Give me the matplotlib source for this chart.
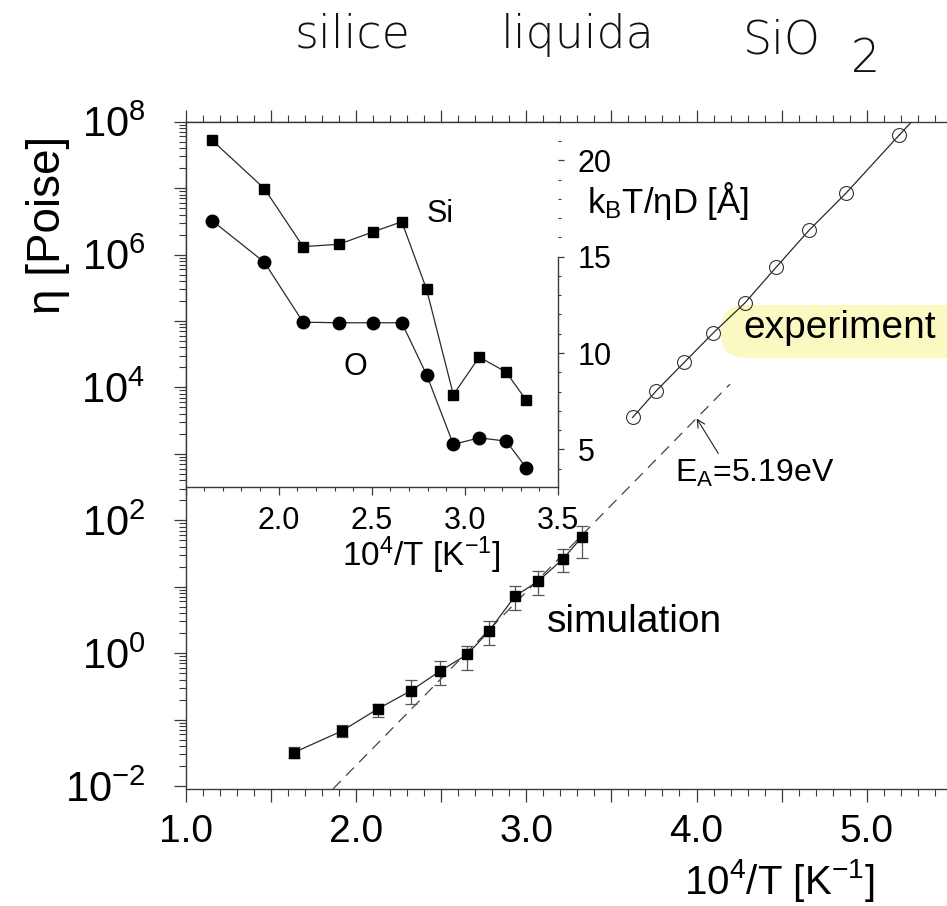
import numpy as np
import matplotlib
matplotlib.use('Agg')
import matplotlib.pyplot as plt
from matplotlib.ticker import FixedLocator, MultipleLocator, FuncFormatter
from matplotlib.patches import FancyBboxPatch

plt.rcParams['font.family'] = ['Liberation Sans', 'DejaVu Sans']
plt.rcParams['mathtext.fontset'] = 'custom'
plt.rcParams['mathtext.rm'] = 'Liberation Sans'
plt.rcParams['mathtext.it'] = 'Liberation Sans:italic'
plt.rcParams['mathtext.bf'] = 'Liberation Sans:bold'
plt.rcParams['mathtext.default'] = 'regular'

# ---------------- data ----------------
# main panel: simulation (10^4/T, log10 eta [Poise]) with asymmetric error bars (decades)
sim_x = [1.635, 1.917, 2.132, 2.321, 2.495, 2.655, 2.782, 2.934, 3.070, 3.215, 3.328]
sim_log_eta = [-1.497, -1.172, -0.834, -0.569, -0.268, -0.017, 0.334, 0.857, 1.083, 1.415, 1.75]
sim_err_up_dec = [0.088, 0.088, 0.075, 0.16, 0.15, 0.125, 0.15, 0.15, 0.15, 0.16, 0.165]
sim_err_dn_dec = [0.088, 0.088, 0.125, 0.20, 0.215, 0.23, 0.215, 0.20, 0.21, 0.20, 0.315]

# main panel: experiment
exp_x = [3.625, 3.762, 3.928, 4.099, 4.285, 4.467, 4.662, 4.877, 5.191]
exp_log_eta = [3.548, 3.944, 4.377, 4.822, 5.274, 5.807, 6.369, 6.922, 7.80]
exp_ext_x = [5.191, 5.30]
exp_ext_log_eta = [7.80, 8.10]

# Arrhenius line E_A = 5.19 eV (end points)
arrh_x = [1.865, 4.197]
arrh_log_eta = [-2.045, 4.05]

# inset: k_B T / (eta D) [Angstrom]
inset_x = [1.643, 1.923, 2.131, 2.323, 2.508, 2.661, 2.794, 2.938, 3.077, 3.222, 3.329]
si_vals = [21.03, 18.53, 15.52, 15.64, 16.29, 16.81, 13.31, 7.84, 9.79, 9.01, 7.55]
o_vals = [16.86, 14.71, 11.60, 11.57, 11.57, 11.57, 8.88, 5.26, 5.60, 5.43, 4.05]

# ---------------- figure ----------------
W, H = 947, 906
fig = plt.figure(figsize=(W / 100, H / 100), dpi=100)
fig.patch.set_facecolor('white')

LC = '#2a2a2a'   # line colour
SC = '#3a3a3a'   # spine colour

# main axes (pixel geometry)
x_left, px_per_unit = 185.6, 170.3
y_top, y_bot = 121.7, 789.0
xmin, xmax = 1.0, 5.6
ax = fig.add_axes([x_left / W, (H - y_bot) / H,
                   (xmax - xmin) * px_per_unit / W, (y_bot - y_top) / H])
ax.set_xlim(xmin, xmax)
ax.set_yscale('log')
ax.set_ylim(10 ** -2.045, 1e8)
for s in ax.spines.values():
    s.set_color(SC)
    s.set_linewidth(1.0)

ax.xaxis.set_major_locator(MultipleLocator(0.5))
ax.xaxis.set_minor_locator(MultipleLocator(0.1))
ax.xaxis.set_major_formatter(FuncFormatter(
    lambda v, p: f'{v:.1f}' if abs(v - round(v)) < 1e-6 else ''))
dec = list(range(-2, 9))
ax.yaxis.set_major_locator(FixedLocator([10.0 ** k for k in dec]))
ax.yaxis.set_minor_locator(FixedLocator(
    [m * 10.0 ** k for k in range(-3, 9) for m in range(2, 10)]))
ax.yaxis.set_major_formatter(FuncFormatter(
    lambda v, p: (r'$10^{%d}$' % round(np.log10(v))) if round(np.log10(v)) % 2 == 0 else ''))
ax.yaxis.set_minor_formatter(FuncFormatter(lambda v, p: ''))

ax.tick_params(axis='x', which='both', direction='out', top=True, bottom=True,
               colors=SC, labelcolor='black')
ax.tick_params(axis='y', which='both', direction='out', left=True, right=False,
               colors=SC, labelcolor='black')
ax.tick_params(which='major', length=9, width=0.9)
ax.tick_params(which='minor', length=5, width=0.8)
ax.tick_params(axis='x', labelsize=28, pad=9)
ax.tick_params(axis='y', labelsize=30, pad=20)

# simulation
sim_eta = 10.0 ** np.array(sim_log_eta)
yerr_lo = sim_eta * (1 - 10.0 ** -np.array(sim_err_dn_dec))
yerr_hi = sim_eta * (10.0 ** np.array(sim_err_up_dec) - 1)
ax.errorbar(sim_x, sim_eta, yerr=[yerr_lo, yerr_hi], fmt='s-', color=LC, lw=0.9,
            ms=7.5, mfc='black', mec='black', ecolor='#555555', elinewidth=0.9,
            capsize=4.5, capthick=0.9, zorder=3)

# experiment
exp_eta = 10.0 ** np.array(exp_log_eta)
ax.plot(exp_x, exp_eta, '-', color=LC, lw=0.9, marker='o', ms=10,
        mfc='none', mec='#333333', mew=0.8, zorder=3)
ax.plot(exp_ext_x, 10.0 ** np.array(exp_ext_log_eta), '-', color=LC, lw=0.9, zorder=3)

# Arrhenius dashed line
ax.plot(arrh_x, 10.0 ** np.array(arrh_log_eta), color='#444444', lw=0.9,
        ls=(0, (9, 6)), zorder=2)

# yellow highlight behind "experiment"
hl = FancyBboxPatch((720.7 / 100, (H - 358) / 100), 2.8, 0.53,
                    boxstyle='round,pad=0,rounding_size=0.25',
                    transform=fig.dpi_scale_trans, fc='#fbf9c2', ec='none',
                    zorder=1.5)
hl.set_clip_on(False)
ax.add_artist(hl)

ax.text(4.275, 10 ** 4.74, 'experiment', fontsize=28, ha='left', va='baseline', zorder=4)
ax.text(3.119, 10 ** 0.32, 'simulation', fontsize=28, ha='left', va='baseline')
ax.text(3.874, 10 ** 2.578, r'E$_\mathrm{A}$=5.19eV', fontsize=23, ha='left', va='baseline')
ax.annotate('', xy=(4.001, 10 ** 3.533), xytext=(4.128, 10 ** 3.006),
            arrowprops=dict(arrowstyle='->', color='#222222', lw=0.8,
                            shrinkA=0, shrinkB=0, mutation_scale=14))

# ---------------- inset ----------------
ins_right, ins_bot = 558.0, 487.0
ins = fig.add_axes([x_left / W, (H - ins_bot) / H,
                    (ins_right - x_left) / W, (ins_bot - y_top) / H])
ins.set_facecolor('white')
ins.set_xlim(1.5, 3.5)
ins.set_ylim(3.05, 22)
for s in ins.spines.values():
    s.set_color(SC)
    s.set_linewidth(1.0)
ins.spines['right'].set_bounds(3.05, 15.0)
ins.yaxis.tick_right()
ins.xaxis.set_major_locator(MultipleLocator(0.5))
ins.xaxis.set_minor_locator(MultipleLocator(0.1))
ins.xaxis.set_major_formatter(FuncFormatter(
    lambda v, p: '' if v < 1.9 else f'{v:.1f}'))
ins.yaxis.set_major_locator(MultipleLocator(5))
ins.yaxis.set_minor_locator(MultipleLocator(1))
ins.tick_params(axis='x', which='both', direction='out', bottom=True, top=False,
                colors=SC, labelcolor='black', labelsize=22, pad=8)
ins.tick_params(axis='y', which='both', direction='out', left=False, right=True,
                colors=SC, labelcolor='black', labelsize=22, pad=10)
ins.tick_params(axis='x', which='major', length=5.5, width=0.9)
ins.tick_params(axis='x', which='minor', length=3, width=0.8)
ins.tick_params(axis='y', which='major', length=4, width=0.9)
ins.tick_params(axis='y', which='minor', length=2.5, width=0.8)

ins.plot(inset_x, si_vals, '-', color=LC, lw=0.9, marker='s', ms=7.5,
         mfc='black', mec='black')
ins.plot(inset_x, o_vals, '-', color=LC, lw=0.9, marker='o', ms=9,
         mfc='black', mec='black')
ins.text(2.795, 16.81, 'Si', fontsize=22, ha='left', va='baseline')
ins.text(2.347, 8.88, 'O', fontsize=22, ha='left', va='baseline')

# ---------------- labels ----------------
fig.text(47.5 / W, 1 - 225 / H, 'η [Poise]', rotation=90, fontsize=33,
         ha='center', va='center')
fig.text(779 / W, 1 - 880 / H, r'10$^4$/T [K$^{-1}$]', fontsize=29,
         ha='center', va='center')
fig.text(421 / W, 1 - 555 / H, r'10$^4$/T [K$^{-1}$]', fontsize=24,
         ha='center', va='center')
fig.text(586.7 / W, 1 - 212.7 / H, r'k$_\mathrm{B}$T/ηD [Å]', fontsize=25,
         ha='left', va='baseline')

# handwritten-style title
tkw = dict(family=['DejaVu Sans'], fontsize=33, color='#111111', weight='light',
           va='baseline', ha='center')
fig.text(353 / W, 1 - 48 / H, 'silice', **tkw)
fig.text(578 / W, 1 - 48 / H, 'liquida', **tkw)
fig.text(782 / W, 1 - 53 / H, 'SiO', **tkw)
fig.text(865 / W, 1 - 72 / H, '2', **tkw)

fig.savefig('out.png', dpi=100, facecolor='white')
